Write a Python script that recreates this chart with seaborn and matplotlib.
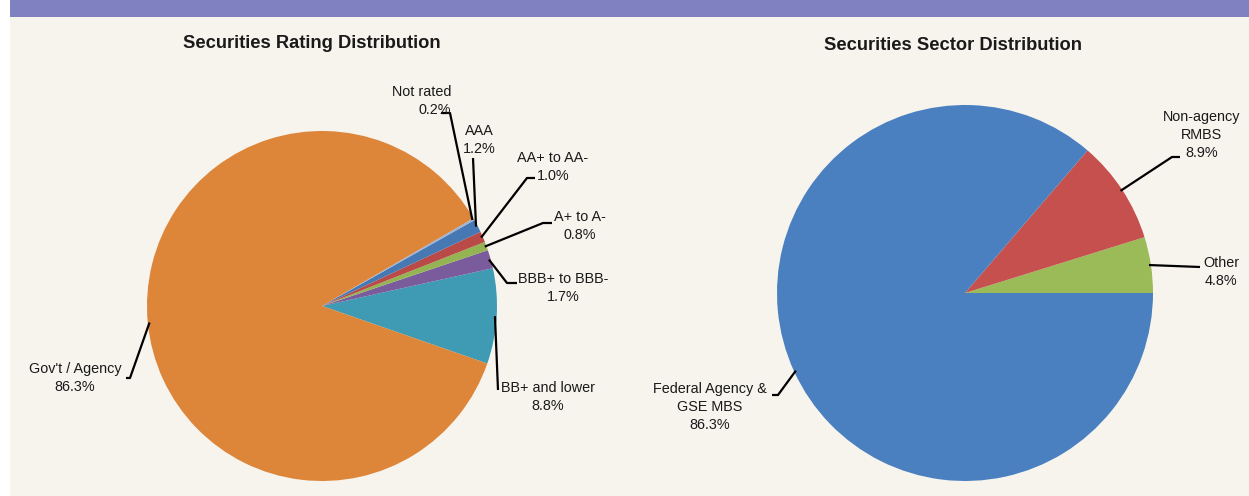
import numpy as np
import matplotlib
matplotlib.use("Agg")
import matplotlib.pyplot as plt
import seaborn as sns
from matplotlib.lines import Line2D
from matplotlib.patches import Rectangle

# ---- data ----
rating_labels = ["BB+ and lower", "BBB+ to BBB-", "A+ to A-", "AA+ to AA-", "AAA", "Not rated", "Gov't / Agency"]
rating_shares = [8.8, 1.7, 0.8, 1.0, 1.2, 0.2, 86.3]
rating_colors = ["#3F9AB3", "#7A5C9C", "#94B453", "#B94A48", "#4678B4", "#9AB3D6", "#DD8539"]

sector_labels = ["Other", "Non-agency\nRMBS", "Federal Agency &\nGSE MBS"]
sector_shares = [4.8, 8.9, 86.3]
sector_colors = ["#9BBA58", "#C5504E", "#4A80C0"]

W, H = 1249, 496
BG = "#F7F4EE"
BAND = "#7F81C1"

sns.set_theme(style="white")
plt.rcParams["font.family"] = ["Liberation Sans", "DejaVu Sans"]

fig = plt.figure(figsize=(W / 100, H / 100), dpi=100, facecolor="white")
fig.add_artist(Rectangle((10 / W, 0), 1 - 10 / W, 1 - 17 / H, transform=fig.transFigure,
                         facecolor=BG, edgecolor="none", zorder=0))
fig.add_artist(Rectangle((10 / W, 1 - 17 / H), 1 - 10 / W, 17 / H, transform=fig.transFigure,
                         facecolor=BAND, edgecolor="none", zorder=0))


def fx(x):
    return x / W


def fy(y):
    return 1 - y / H


def pie_axes(cx, cy, r):
    ax = fig.add_axes([fx(cx - r), fy(cy + r), 2 * r / W, 2 * r / H])
    ax.axis("off")
    return ax


def draw_pie(ax, shares, colors, start):
    wedges, _ = ax.pie(shares, colors=colors, startangle=start, counterclock=True,
                       radius=1, wedgeprops=dict(linewidth=0))
    ax.set_xlim(-1, 1)
    ax.set_ylim(-1, 1)
    return wedges


def label_wedges(ax, wedges, labels, shares, layout):
    inv = fig.transFigure.inverted()
    for w, lab, val, (tx, ty, ha, path) in zip(wedges, labels, shares, layout):
        mid = np.deg2rad((w.theta1 + w.theta2) / 2)
        tip = inv.transform(ax.transData.transform((0.99 * np.cos(mid), 0.99 * np.sin(mid))))
        xs = [fx(p[0]) for p in path] + [tip[0]]
        ys = [fy(p[1]) for p in path] + [tip[1]]
        fig.add_artist(Line2D(xs, ys, transform=fig.transFigure, color="black", lw=1.6,
                              solid_capstyle="butt"))
        fig.text(fx(tx), fy(ty), f"{lab}\n{val:.1f}%", ha=ha, va="center", multialignment=ha,
                 fontsize=10.4, color="#1a1a1a", linespacing=1.38)


# left pie: rating
ax1 = pie_axes(322, 306, 175)
w1 = draw_pie(ax1, rating_shares, rating_colors, -19.2)
rating_layout = [
    (548, 397, "center", [(498, 390)]),
    (563, 288, "center", [(517, 283), (507, 283)]),
    (580, 226, "center", [(552, 223), (543, 223)]),
    (553, 167, "center", [(535, 178), (527, 178)]),
    (479, 140, "center", [(473, 158)]),
    (451, 101, "right", [(441, 113), (450, 113)]),
    (75, 378, "center", [(126, 378), (130, 378)]),
]
label_wedges(ax1, w1, rating_labels, rating_shares, rating_layout)
fig.text(fx(312), fy(43), "Securities Rating Distribution", ha="center", va="center",
         fontsize=13.2, fontweight="bold", color="#1a1a1a")

# right pie: sector
ax2 = pie_axes(965, 293, 188)
w2 = draw_pie(ax2, sector_shares, sector_colors, 0)
sector_layout = [
    (1221, 272, "center", [(1200, 267)]),
    (1202, 135, "center", [(1180, 157), (1172, 157)]),
    (710, 407, "center", [(772, 395), (778, 395)]),
]
label_wedges(ax2, w2, sector_labels, sector_shares, sector_layout)
fig.text(fx(953), fy(46), "Securities Sector Distribution", ha="center", va="center",
         fontsize=13.2, fontweight="bold", color="#1a1a1a")

fig.savefig("out.png", dpi=100, facecolor=fig.get_facecolor())
